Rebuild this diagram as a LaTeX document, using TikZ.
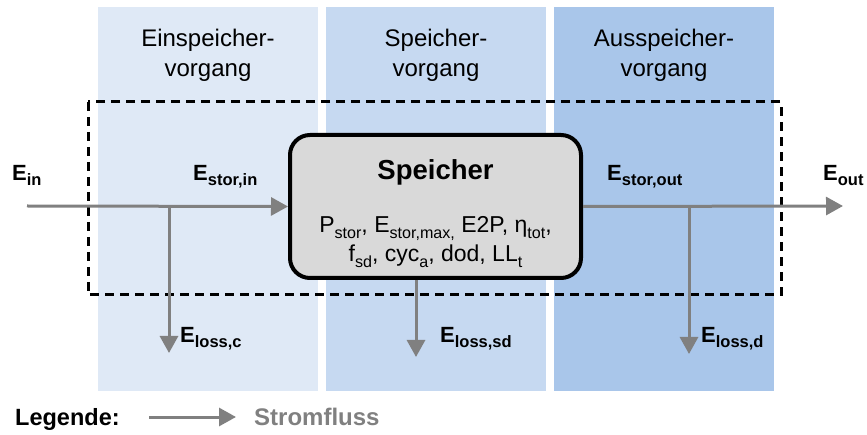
\documentclass[tikz,border=0pt]{standalone}
\usepackage{fontspec}
\setmainfont{Liberation Sans}
\usetikzlibrary{arrows.meta}

\definecolor{phaseIn}{HTML}{DFE9F6}
\definecolor{phaseHold}{HTML}{C6D9F1}
\definecolor{phaseOut}{HTML}{A9C6EA}
\definecolor{storeFill}{HTML}{D9D9D9}
\definecolor{flowGray}{HTML}{808080}

% subscripts in the current font, scaled down and lowered
\newcommand\lowidx[1]{\raisebox{-0.23em}{\scalebox{0.75}{#1}}}
\newcommand\parmidx[1]{\raisebox{-0.23em}{\scalebox{0.7}{#1}}}

\tikzset{
  panel/.style={draw=none, inner sep=0pt, minimum width=220pt, minimum height=384pt},
  head/.style={anchor=base, inner sep=0pt, font=\fontsize{24}{30}\selectfont},
  flow/.style={draw=flowGray, line width=3pt, -{Triangle[length=17pt,width=18pt]}},
  elabel/.style={anchor=base west, inner sep=0pt, font=\fontsize{22}{24}\selectfont\bfseries},
  storebox/.style={draw=black, line width=4pt, fill=storeFill, rounded corners=20pt,
    minimum width=291pt, minimum height=143pt, inner sep=0pt},
  sysframe/.style={draw=black, line width=3pt, dash pattern=on 9pt off 6pt},
  parline/.style={anchor=base, inner sep=0pt, font=\fontsize{23}{29}\selectfont},
}

\begin{document}
\begin{tikzpicture}[x=1pt, y=-1pt]
\useasboundingbox (0,0) rectangle (867,435);

% the three process phases
\node[panel, fill=phaseIn]   (p1) at (208,199) {};
\node[panel, fill=phaseHold] (p2) at (436,199) {};
\node[panel, fill=phaseOut]  (p3) at (664,199) {};

\node[head] (h1a) at (208,47) {Einspeicher-};
\node[head] (h1b) at (208,77) {vorgang};
\node[head] (h2a) at (436,47) {Speicher-};
\node[head] (h2b) at (436,77) {vorgang};
\node[head] (h3a) at (664,47) {Ausspeicher-};
\node[head] (h3b) at (664,77) {vorgang};

% system boundary
\draw[sysframe] (88,102) rectangle (781,295);

% storage unit
\node[storebox] (st) at (435.5,206.5) {};
\node[anchor=base, inner sep=0pt, font=\fontsize{27.5}{30}\selectfont\bfseries] (title) at (435.5,180) {Speicher};
\node[parline] (par1) at (435.5,233) {P\parmidx{stor}, E\parmidx{stor,max,} E2P, η\parmidx{tot},};
\node[parline] (par2) at (435.5,262) {f\parmidx{sd}, cyc\parmidx{a}, dod, LL\parmidx{t}};

% energy flows
\coordinate (in)  at (27,206);
\coordinate (out) at (843,206);
\coordinate (j1)  at (169,206);
\coordinate (j3)  at (689,206);
\coordinate (l1)  at (169,353);
\coordinate (l2)  at (416,357);
\coordinate (l3)  at (689,354);

\draw[flow] (in) -- (st.west);
\draw[flow] (st.east) -- (out);
\draw[flow] (j1) -- (l1);
\draw[flow] (st.south -| l2) -- (l2);
\draw[flow] (j3) -- (l3);

% flow labels
\node[elabel] (ein)   at (12,180.5)  {E\lowidx{in}};
\node[elabel] (esin)  at (193,180.5) {E\lowidx{stor,in}};
\node[elabel] (esout) at (607,180.5) {E\lowidx{stor,out}};
\node[elabel] (eout)  at (823,180.5) {E\lowidx{out}};
\node[elabel] (elc)   at (180,342) {E\lowidx{loss,c}};
\node[elabel] (elsd)  at (440,342) {E\lowidx{loss,sd}};
\node[elabel] (eld)   at (701,342) {E\lowidx{loss,d}};

% legend
\node[anchor=base west, inner sep=0pt, font=\fontsize{23.5}{26}\selectfont\bfseries] (leg) at (15,425) {Legende:};
\coordinate (lga) at (149,417);
\coordinate (lgb) at (236,417);
\draw[flow] (lga) -- (lgb);
\node[anchor=base west, inner sep=0pt, text=flowGray, font=\fontsize{24}{26}\selectfont\bfseries] (legtxt) at (254,425) {Stromfluss};
\end{tikzpicture}
\end{document}
